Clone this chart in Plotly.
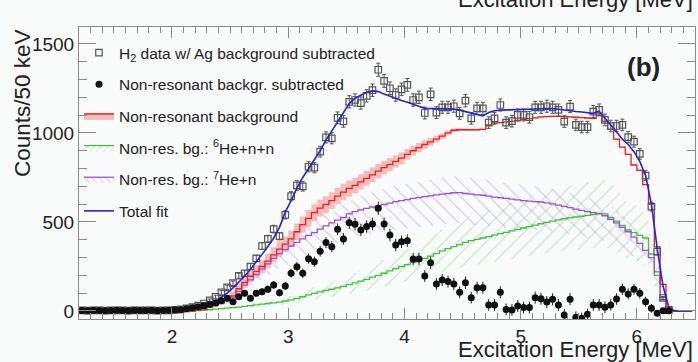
import numpy as np
import plotly.graph_objects as go

# ---- binning (50 keV bins) ----
bin_width = 0.05
first_center = 1.225

# H2 data with Ag background subtracted (counts / 50 keV)
h2_counts = [
    3, 2, 4, 3, 2, 3, 4, 3, 2, 4, 3, 3, 4, 2, 3, 4,
    6, 9, 15, 22, 30, 42, 60, 80, 104, 133, 156, 198, 212, 250,
    295, 365, 405, 460, 420, 540, 645, 705, 700, 810, 805, 895, 975, 970,
    1085, 1065, 1175, 1185, 1168, 1208, 1240, 1355, 1292, 1251, 1213, 1245,
    1270, 1185, 1200, 1112, 1217, 1114, 1144, 1144, 1150, 1110, 1181, 1082,
    1138, 1138, 1058, 1082, 1157, 1058, 1066, 1101, 1101, 1088, 1144, 1144,
    1150, 1144, 1129, 1064, 1148, 1045, 1033, 1033, 1120, 1129, 1073, 1039,
    1039, 1045, 976, 951, 882, 760, 586, 333, 73, 5,
]

# Data after subtraction of the non-resonant background
nonres_subtracted = [
    3, 2, 4, 3, 2, 3, 4, 3, 2, 4, 3, 3, 4, 2, 3, 4,
    5, 7, 12, 18, 24, 30, 38, 45, 58, 71, 52, 80, 99, 71,
    99, 108, 122, 146, 103, 140, 212, 249, 212, 294, 277, 336, 384, 361,
    459, 405, 495, 487, 455, 474, 489, 577, 489, 427, 371, 389,
    395, 292, 292, 197, 271, 152, 174, 165, 152, 105, 159, 75,
    131, 131, 34, 34, 105, 9, 6, 28, 19, 19, 75, 69,
    50, 66, 34, -22, 66, -35, -41, -19, 34, 34, 21, 34,
    67, 122, 96, 122, 99, 52, 15, -13, 2, 2,
]

# Non-resonant background (total) and its uncertainty band half-width
nonres_bg = [
    0, 0, 0, 0, 0, 0, 0, 0, 0, 0, 0, 0, 0, 0, 0, 0, 0, 0, 0, 0,
    5, 12, 25, 38, 52, 68, 85, 125, 160, 195, 222, 250, 280, 315, 348, 375,
    405, 445, 485, 520, 552, 578, 598, 620, 645, 668, 688, 705, 725, 745,
    765, 785, 805, 822, 840, 858, 880, 900, 918, 935, 950, 965, 982, 1000,
    1015, 1018, 1018, 1018, 1018, 1020, 1045, 1055, 1058, 1062, 1065, 1070,
    1075, 1080, 1085, 1090, 1092, 1093, 1093, 1092, 1090, 1088, 1086, 1084,
    1082, 1100, 1065, 1020, 965, 920, 880, 820, 790, 710, 600, 360, 150, 25,
    0, 0, 0, 0,
]
nonres_bg_err = [
    0, 0, 0, 0, 0, 0, 0, 0, 0, 0, 0, 0, 0, 0, 0, 0, 0, 0, 0, 0,
    3, 6, 10, 14, 18, 22, 25, 28, 31, 34, 36, 38, 40, 42, 43, 44,
    45, 46, 46, 47, 47, 47, 47, 47, 46, 46, 45, 44, 43, 42,
    41, 40, 38, 36, 34, 32, 30, 28, 26, 24, 22, 19, 16, 13,
    10, 8, 7, 6, 5, 4, 4, 4, 4, 4, 4, 4,
    4, 4, 4, 4, 4, 4, 4, 4, 4, 4, 4, 4,
    4, 4, 4, 4, 4, 4, 4, 4, 4, 4, 4, 4, 3, 2,
    0, 0, 0, 0,
]

# Non-resonant component: 6He + n + n
bg_6he_nn = [
    0, 0, 0, 0, 0, 0, 0, 0, 0, 0, 0, 0, 0, 0, 0, 0, 0, 0, 0, 0,
    2, 4, 7, 10, 13, 16, 19, 22, 26, 30, 34, 38, 42, 46, 50, 56,
    62, 70, 80, 90, 99, 107, 115, 122, 130, 138, 148, 158, 168, 178,
    190, 200, 212, 225, 238, 250, 260, 272, 283, 295, 308, 322, 338, 350,
    362, 373, 385, 395, 402, 410, 418, 426, 434, 442, 450, 458,
    466, 474, 482, 490, 498, 505, 512, 518, 523, 528, 532, 537,
    542, 548, 545, 525, 505, 480, 455, 440, 425, 410, 320, 200, 60, 3,
    0, 0, 0, 0,
]

# Non-resonant component: 7He + n
bg_7he_n = [
    0, 0, 0, 0, 0, 0, 0, 0, 0, 0, 0, 0, 0, 0, 0, 0, 0, 0, 0, 0,
    4, 10, 20, 32, 45, 60, 78, 110, 145, 175, 205, 235, 265, 295, 322, 345,
    365, 385, 405, 425, 440, 460, 478, 495, 510, 525, 545, 558, 568, 576,
    584, 590, 598, 606, 614, 620, 626, 632, 637, 642, 647, 652, 656, 660,
    664, 665, 660, 656, 652, 650, 645, 640, 636, 632, 628, 624,
    620, 617, 614, 612, 607, 602, 595, 588, 580, 572, 565, 558,
    552, 545, 535, 515, 495, 470, 445, 415, 380, 340, 300, 220, 75, 5,
    0, 0, 0, 0,
]

# Relative size of the hatched uncertainty bands (upper, lower)
rel_6he_nn = (0.35, 0.35)
rel_7he_n = (0.14, 0.26)

# Total fit
total_fit = [
    0, 0, 0, 0, 0, 0, 0, 0, 0, 0, 0, 0, 0, 0, 0, 0,
    2, 4, 8, 13, 18, 26, 38, 55, 78, 100, 130, 160, 195, 235,
    275, 318, 362, 410, 470, 555, 620, 690, 750, 800, 850, 900, 960, 1010,
    1065, 1115, 1165, 1195, 1212, 1228, 1236, 1232, 1218, 1205, 1192, 1182,
    1172, 1163, 1150, 1138, 1137, 1138, 1137, 1136, 1134, 1128, 1120, 1112,
    1103, 1096, 1115, 1125, 1128, 1129, 1130, 1130, 1132, 1134, 1137, 1138,
    1138, 1137, 1133, 1128, 1124, 1120, 1118, 1115, 1110, 1122, 1085, 1045,
    1005, 965, 935, 895, 840, 760, 600, 350, 140, 20, 0, 0, 0, 0,
]

# ---- derived arrays ----
e_data = first_center + bin_width * np.arange(len(h2_counts))
e_model = first_center + bin_width * np.arange(len(nonres_bg))
h2 = np.array(h2_counts, dtype=float)
sub = np.array(nonres_subtracted, dtype=float)
stat_err = np.sqrt(np.clip(h2, 1, None))
red = np.array(nonres_bg, dtype=float)
red_err = np.array(nonres_bg_err, dtype=float)
green = np.array(bg_6he_nn, dtype=float)
purple = np.array(bg_7he_n, dtype=float)
fit = np.array(total_fit, dtype=float)

RED = "#e8231f"
PINK = "rgba(243,125,125,0.5)"
GREEN = "#3cc43c"
GREEN_HATCH = "rgba(110,200,110,0.75)"
PURPLE = "#a050d2"
PURPLE_HATCH = "rgba(175,130,215,0.8)"
BLUE = "#2424d8"
FONT = "Liberation Sans, Arial, Helvetica, sans-serif"

fig = go.Figure()

# ---- legend entries ----
legend_items = [
    dict(name="H<sub>2</sub> data w/ Ag background subtracted", mode="markers",
         marker=dict(symbol="square-open", size=6.5, color="#555", line=dict(width=1.2))),
    dict(name="Non-resonant backgr. subtracted", mode="markers",
         marker=dict(symbol="circle", size=7, color="#111")),
    dict(name="Non-resonant background", mode="lines", fill="toself",
         fillcolor=PINK, line=dict(color=RED, width=1.5)),
    dict(name="Non-res. bg.: <sup>6</sup>He+n+n", mode="lines", fill="toself",
         fillcolor="rgba(0,0,0,0)",
         fillpattern=dict(shape="/", fgcolor=GREEN_HATCH, bgcolor="rgba(0,0,0,0)", size=5, solidity=0.2),
         line=dict(color=GREEN, width=1.3)),
    dict(name="Non-res. bg.: <sup>7</sup>He+n", mode="lines", fill="toself",
         fillcolor="rgba(0,0,0,0)",
         fillpattern=dict(shape="\\", fgcolor=PURPLE_HATCH, bgcolor="rgba(0,0,0,0)", size=5, solidity=0.2),
         line=dict(color=PURPLE, width=1.3)),
    dict(name="Total fit", mode="lines", line=dict(color=BLUE, width=1.6)),
]
for i, item in enumerate(legend_items):
    fig.add_trace(go.Scatter(x=[None], y=[None], legendgroup=f"g{i}", showlegend=True,
                             hoverinfo="skip", **item))

# ---- uncertainty bands ----
def band(x, lo, hi, **fillkw):
    fig.add_trace(go.Scatter(x=x, y=lo, mode="lines", line=dict(width=0, shape="hvh"),
                             showlegend=False, hoverinfo="skip"))
    fig.add_trace(go.Scatter(x=x, y=hi, mode="lines", line=dict(width=0, shape="hvh"),
                             fill="tonexty", showlegend=False, hoverinfo="skip", **fillkw))

band(e_model, purple * (1 - rel_7he_n[1]), purple * (1 + rel_7he_n[0]),
     fillcolor="rgba(0,0,0,0)",
     fillpattern=dict(shape="\\", fgcolor=PURPLE_HATCH, bgcolor="rgba(0,0,0,0)", size=10, solidity=0.12))
band(e_model, green * (1 - rel_6he_nn[1]), green * (1 + rel_6he_nn[0]),
     fillcolor="rgba(0,0,0,0)",
     fillpattern=dict(shape="/", fgcolor=GREEN_HATCH, bgcolor="rgba(0,0,0,0)", size=10, solidity=0.12))
band(e_model, red - red_err, red + red_err, fillcolor=PINK)

# ---- component histograms ----
for y, col in [(green, GREEN), (purple, PURPLE), (red, RED)]:
    fig.add_trace(go.Scatter(x=e_model, y=y, mode="lines",
                             line=dict(color=col, width=1.3, shape="hvh"),
                             showlegend=False, hoverinfo="skip"))

# ---- data ----
fig.add_trace(go.Scatter(
    x=e_data, y=h2, mode="markers", showlegend=False,
    marker=dict(symbol="square-open", size=6.5, color="#555", line=dict(width=1.2)),
    error_y=dict(type="data", array=stat_err, color="#555", thickness=1, width=2),
))
fig.add_trace(go.Scatter(x=e_model, y=fit, mode="lines", showlegend=False,
                         line=dict(color=BLUE, width=1.6)))
fig.add_trace(go.Scatter(
    x=e_data, y=sub, mode="markers", showlegend=False,
    marker=dict(symbol="circle", size=7, color="#111"),
    error_y=dict(type="data", array=stat_err, color="#222", thickness=1, width=0),
))

axis_common = dict(showline=True, linecolor="#8a8a8a", linewidth=1, mirror="ticks",
                   ticks="inside", tickcolor="#8a8a8a", showgrid=False, zeroline=False,
                   tickfont=dict(family=FONT, size=19, color="#222"))

fig.update_xaxes(range=[1.2, 6.5], tick0=0, dtick=1, ticklen=11,
                 minor=dict(ticks="inside", ticklen=6, dtick=0.1, tickcolor="#8a8a8a"),
                 **axis_common)
fig.update_yaxes(range=[-45, 1595], tick0=0, dtick=500, ticklen=17,
                 minor=dict(ticks="inside", ticklen=8, dtick=100, tickcolor="#8a8a8a"),
                 **axis_common)

title_font = dict(family=FONT, size=22, color="#222")
fig.update_layout(
    width=698, height=362,
    margin=dict(l=79, r=3, t=27, b=43),
    paper_bgcolor="#f9fbfb", plot_bgcolor="#f9fbfb",
    showlegend=True,
    legend=dict(x=0.0, y=0.969, xanchor="left", yanchor="top",
                bgcolor="rgba(0,0,0,0)", traceorder="grouped", tracegroupgap=8.5,
                font=dict(family=FONT, size=15.5, color="#222")),
    annotations=[
        dict(text="Counts/50 keV", textangle=-90, xref="paper", yref="paper",
             x=-0.0925, y=1.0, xanchor="center", yanchor="top", showarrow=False,
             font=dict(family=FONT, size=22.5, color="#222")),
        dict(text="Excitation Energy [MeV]", xref="paper", yref="paper",
             x=1.0, y=0.0, yshift=-30, xanchor="right", yanchor="middle",
             showarrow=False, font=title_font),
        dict(text="Excitation Energy [MeV]", xref="paper", yref="paper",
             x=1.0, y=1.095, xanchor="right", yanchor="middle", showarrow=False,
             font=title_font),
        dict(text="<b>(b)</b>", xref="paper", yref="paper",
             x=0.9156, y=0.863, xanchor="center", yanchor="middle", showarrow=False,
             font=dict(family=FONT, size=26, color="#222")),
    ],
)

fig.write_html("out.html")
